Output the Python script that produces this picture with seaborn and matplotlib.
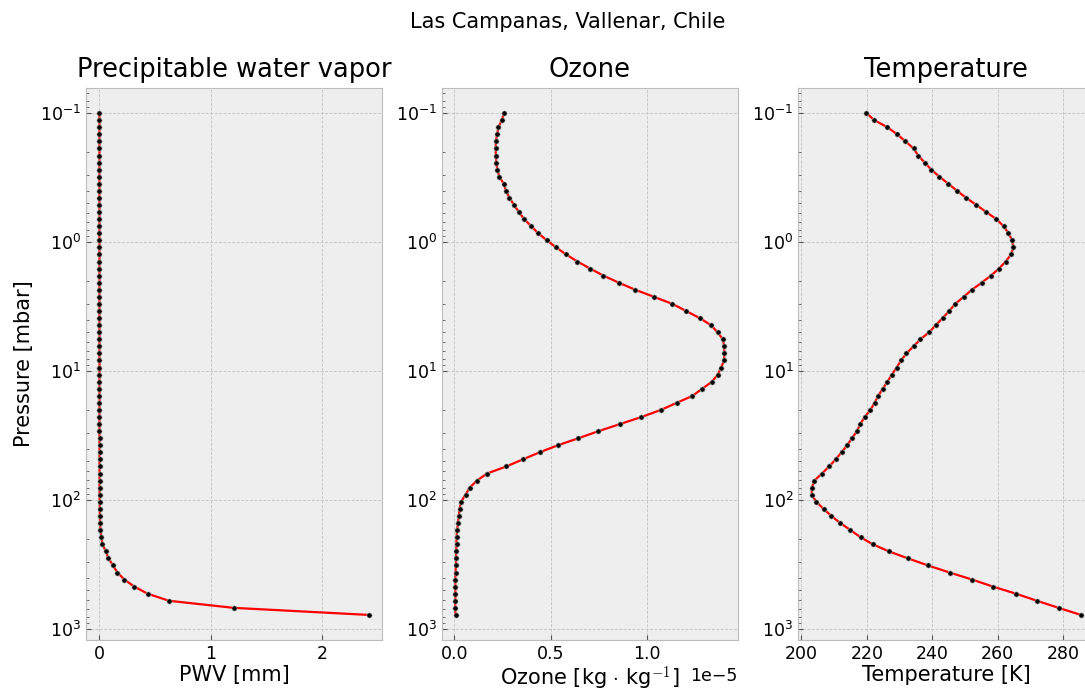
import numpy as np
import matplotlib
matplotlib.use("Agg")
import matplotlib.pyplot as plt
import seaborn as sns

# ---- data ----
pressure = [0.100, 0.1134, 0.1287, 0.1460, 0.1656, 0.1879, 0.2132, 0.2418, 0.2744, 0.3113,
            0.3531, 0.4006, 0.4545, 0.5157, 0.5850, 0.6637, 0.7529, 0.8540, 0.9687, 1.099,
            1.247, 1.415, 1.605, 1.820, 2.065, 2.343, 2.658, 3.015, 3.420, 3.880,
            4.402, 4.994, 5.665, 6.427, 7.291, 8.272, 9.385, 10.65, 12.08, 13.70,
            15.55, 17.64, 20.01, 22.70, 25.75, 29.22, 33.14, 37.60, 42.66, 48.40,
            54.91, 62.29, 70.66, 80.17, 90.95, 103.2, 117.0, 132.8, 150.6, 170.9,
            193.9, 219.9, 249.5, 283.1, 321.1, 364.3, 413.2, 468.8, 531.9, 603.4,
            684.5, 776.5]

pwv_mm = [0.0002, 0.0002, 0.0002, 0.0002, 0.0002, 0.0002, 0.0002, 0.0002, 0.0002, 0.0002,
          0.0003, 0.0003, 0.0003, 0.0003, 0.0003, 0.0003, 0.0003, 0.0003, 0.0003, 0.0003,
          0.0004, 0.0004, 0.0004, 0.0004, 0.0004, 0.0004, 0.0004, 0.0004, 0.0004, 0.0004,
          0.0005, 0.0005, 0.0005, 0.0005, 0.0005, 0.0005, 0.0005, 0.0005, 0.0005, 0.0005,
          0.0006, 0.0006, 0.0006, 0.0006, 0.0006, 0.0006, 0.0007, 0.0007, 0.0007, 0.0008,
          0.0008, 0.0009, 0.0010, 0.0012, 0.0015, 0.0020, 0.0030, 0.0040, 0.0060, 0.0090,
          0.018, 0.027, 0.057, 0.081, 0.123, 0.161, 0.224, 0.313, 0.433, 0.624,
          1.203, 2.414]

ozone_1e5 = [0.259, 0.247, 0.230, 0.223, 0.216, 0.216, 0.216, 0.219, 0.224, 0.235,
             0.257, 0.269, 0.287, 0.311, 0.336, 0.363, 0.400, 0.436, 0.481, 0.529,
             0.581, 0.640, 0.706, 0.775, 0.855, 0.940, 1.038, 1.133, 1.204, 1.274,
             1.333, 1.367, 1.395, 1.402, 1.402, 1.402, 1.385, 1.369, 1.338, 1.288,
             1.237, 1.155, 1.073, 0.972, 0.861, 0.749, 0.645, 0.538, 0.443, 0.356,
             0.270, 0.170, 0.118, 0.080, 0.059, 0.035, 0.028, 0.024, 0.019, 0.016,
             0.012, 0.012, 0.010, 0.010, 0.009, 0.007, 0.006, 0.006, 0.006, 0.006,
             0.005, 0.007]

temperature_K = [219.9, 222.3, 226.3, 229.3, 231.8, 234.3, 235.7, 237.7, 239.7, 242.2,
                 244.9, 247.6, 250.4, 253.5, 256.5, 259.6, 261.8, 263.3, 264.4, 264.8,
                 264.1, 262.4, 260.4, 257.9, 255.1, 252.1, 249.6, 247.0, 245.2, 243.2,
                 241.1, 239.1, 236.4, 234.3, 232.1, 230.5, 229.1, 227.7, 226.3, 224.9,
                 223.5, 222.4, 221.1, 219.4, 218.0, 217.0, 215.5, 214.0, 212.3, 210.5,
                 208.5, 206.3, 204.0, 203.2, 203.2, 204.6, 206.8, 209.2, 211.9, 215.0,
                 218.1, 221.8, 226.7, 232.6, 238.7, 245.3, 252.2, 258.6, 265.6, 272.0,
                 278.6, 285.4]

titles = ["Precipitable water vapor", "Ozone", "Temperature"]
xlabels = ["PWV [mm]", r"Ozone [kg $\cdot$ kg$^{-1}$]", "Temperature [K]"]
ylabel = "Pressure [mbar]"
suptitle = "Las Campanas, Vallenar, Chile"

# ---- style ----
plt.style.use("bmh")
plt.rcParams.update({
    "font.family": ["DejaVu Sans"],
    "font.size": 12.5,
    "axes.titlesize": 18.5,
    "axes.labelsize": 15,
    "xtick.labelsize": 12.5,
    "ytick.labelsize": 12.5,
    "axes.edgecolor": "#bcbcbc",
    "axes.facecolor": "#eeeeee",
    "grid.color": "#c4c4c4",
    "grid.linestyle": "--",
    "grid.linewidth": 0.6,
})

W, H = 1085, 693
fig = plt.figure(figsize=(W / 100, H / 100), dpi=100)
lefts = [86, 441.7, 798.3]
bottom_px, top_px = 640, 88
aw = 296
axes = [fig.add_axes([l / W, (H - bottom_px) / H, aw / W, (bottom_px - top_px) / H]) for l in lefts]

p = np.array(pressure)
series = [np.array(pwv_mm), np.array(ozone_1e5) * 1e-5, np.array(temperature_K)]

for ax, vals, title, xl in zip(axes, series, titles, xlabels):
    sns.lineplot(x=vals, y=p, sort=False, estimator=None, ax=ax, color="red", lw=1.6, zorder=2)
    sns.scatterplot(x=vals, y=p, ax=ax, color="black", s=14, edgecolor="#bbbbbb",
                    linewidth=0.4, zorder=3)
    ax.set_yscale("log")
    ax.invert_yaxis()
    ax.set_title(title, pad=8)
    ax.set_xlabel(xl, labelpad=1.5)
    ax.set_ylabel("")
    ax.tick_params(axis="both", which="both", color="#555555")
    ax.set_axisbelow(True)

axes[0].set_ylabel(ylabel)
axes[2].set_xticks([200, 220, 240, 260, 280])
fig.suptitle(suptitle, fontsize=15, x=568 / W, y=1 - 22 / H, va="center")

fig.savefig("out.png", dpi=100)
